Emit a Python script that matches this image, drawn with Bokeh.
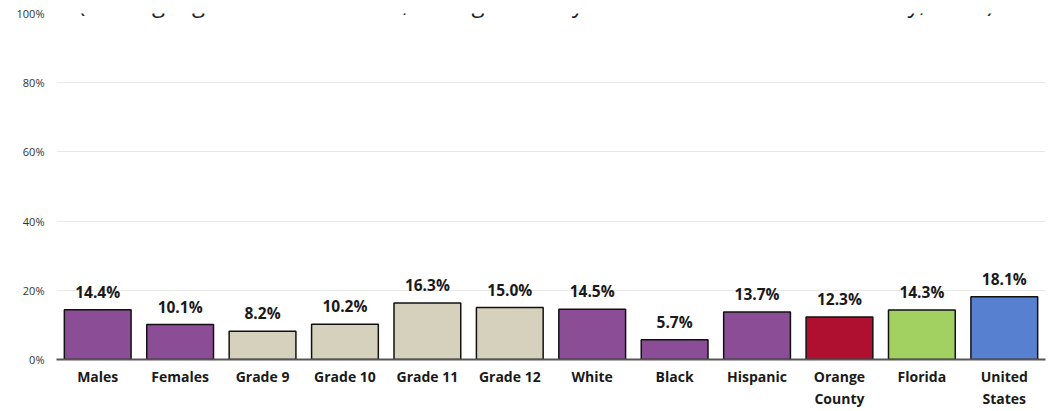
from bokeh.plotting import figure
from bokeh.models import ColumnDataSource, Label, FixedTicker, CustomJSTickFormatter
from bokeh.core.properties import value
from bokeh.embed import file_html
from bokeh.resources import INLINE

categories = ["Males", "Females", "Grade 9", "Grade 10", "Grade 11", "Grade 12",
              "White", "Black", "Hispanic", "Orange\nCounty", "Florida", "United\nStates"]
values = [14.4, 10.1, 8.2, 10.2, 16.3, 15.0, 14.5, 5.7, 13.7, 12.3, 14.3, 18.1]
colors = ["#8B4D96", "#8B4D96", "#D6D1BC", "#D6D1BC", "#D6D1BC", "#D6D1BC",
          "#8B4D96", "#8B4D96", "#8B4D96", "#B01030", "#A2D162", "#5781D0"]
labels = [f"{v:.1f}%" for v in values]
y_ticks = [0, 20, 40, 60, 80, 100]
subtitle = "(Among high school students, Orange County Florida Youth Tobacco Survey, 2018)"

FONT = "Open Sans"

src = ColumnDataSource(dict(cat=categories, val=values, color=colors, label=labels))

p = figure(x_range=categories, y_range=(0, 100), width=1050, height=411,
           output_backend="svg", toolbar_location=None,
           min_border_left=56, min_border_right=5, min_border_top=13, min_border_bottom=52)
p.outline_line_color = None
p.background_fill_color = "white"

p.vbar(x="cat", top="val", width=0.81, source=src, fill_color="color",
       line_color="#111111", line_width=1.5)
p.text(x="cat", y="val", text="label", source=src, text_align="center",
       text_baseline="alphabetic", y_offset=-18, text_font=value(FONT),
       text_font_style="bold", text_font_size="15.5px", text_color="#1a1a1a")

p.yaxis.ticker = FixedTicker(ticks=y_ticks)
p.yaxis.formatter = CustomJSTickFormatter(code="return tick + '%';")
p.yaxis.axis_line_color = None
p.yaxis.major_tick_line_color = None
p.yaxis.minor_tick_line_color = None
p.yaxis.major_tick_out = 0
p.yaxis.major_tick_in = 0
p.yaxis.major_label_text_font = FONT
p.yaxis.major_label_text_font_size = "11px"
p.yaxis.major_label_text_color = "#333333"
p.yaxis.major_label_standoff = 12

p.xaxis.axis_line_color = "#555555"
p.xaxis.axis_line_width = 2
p.xaxis.major_tick_line_color = None
p.xaxis.minor_tick_line_color = None
p.xaxis.major_tick_out = 0
p.xaxis.major_tick_in = 0
p.xaxis.major_label_text_font = FONT
p.xaxis.major_label_text_font_style = "bold"
p.xaxis.major_label_text_font_size = "14px"
p.xaxis.major_label_text_color = "#1a1a1a"
p.xaxis.major_label_standoff = 7

p.xgrid.grid_line_color = None
p.ygrid.grid_line_color = "#E8E8E8"
p.ygrid.grid_line_width = 1

p.add_layout(Label(x=0.265, y=103.2, text=subtitle, text_font=FONT,
                   text_font_size="24px", text_color="#222222",
                   text_baseline="alphabetic", text_align="left"))

open("out.html", "w").write(file_html(p, INLINE))
